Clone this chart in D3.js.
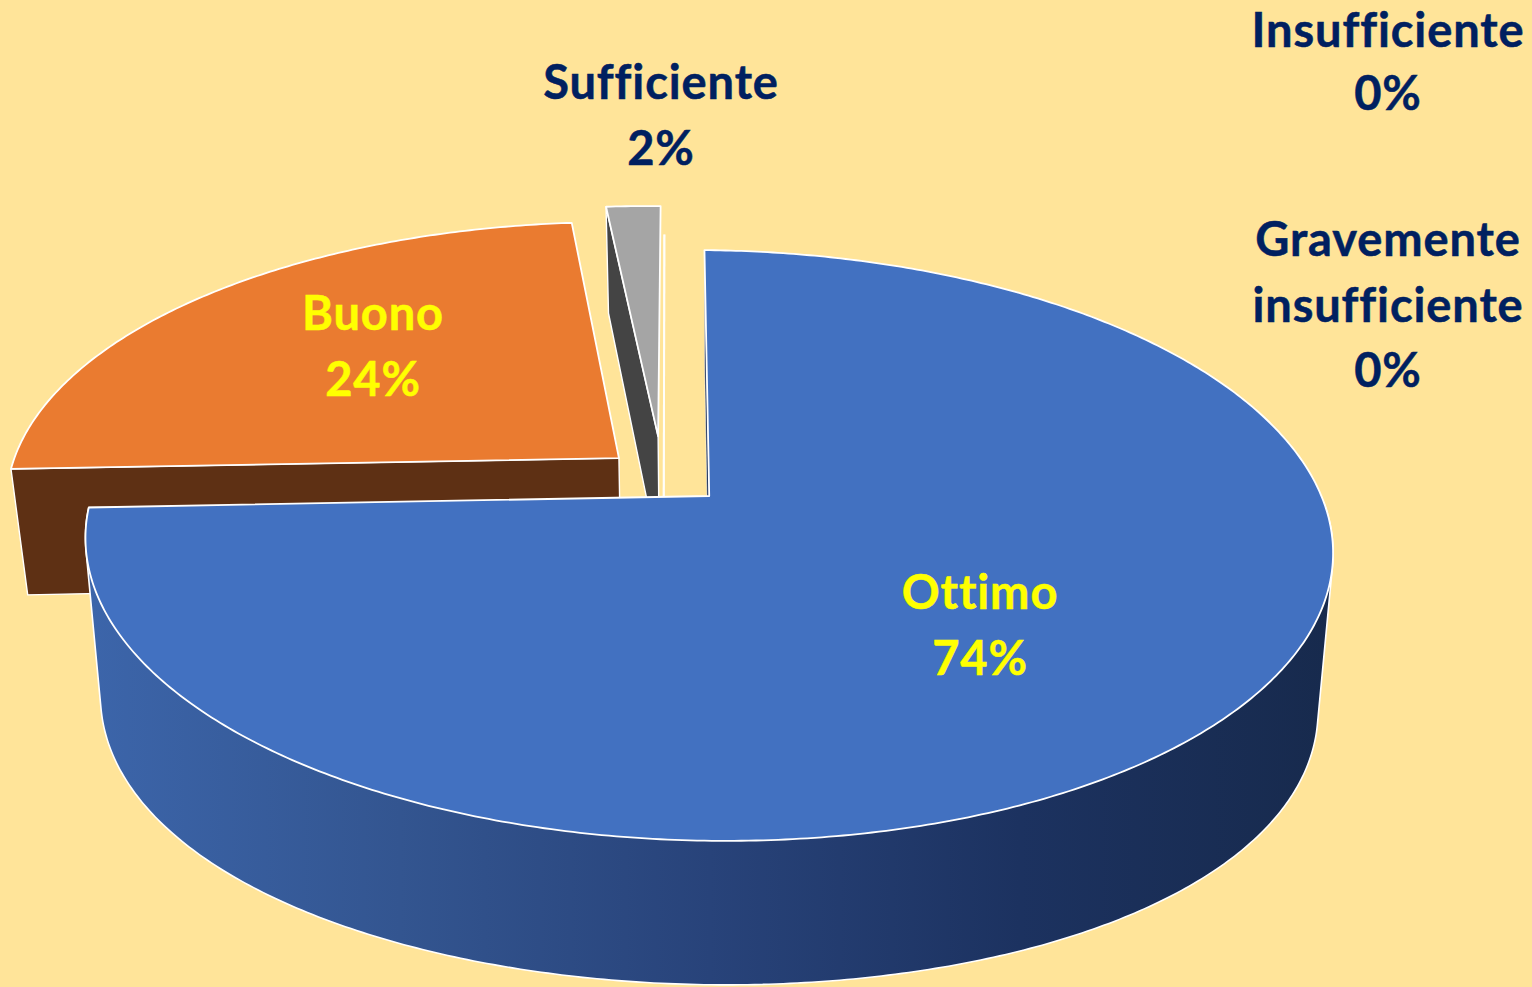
<!DOCTYPE html>
<html><head><meta charset="utf-8">
<script src="https://cdn.jsdelivr.net/npm/d3@7/dist/d3.min.js"></script>
<style>html,body{margin:0;padding:0;background:#ffe499;overflow:hidden}svg{display:block}</style>
</head><body><svg id="c" width="1532" height="987"></svg>
<script>
const categories = ["Ottimo","Buono","Sufficiente","Insufficiente","Gravemente insufficiente"];
const values = [74.1,24.2,1.7,0,0];
const percentLabels = ["74%","24%","2%","0%","0%"];
const topColors = ["#4271c1","#ea7b30","#a5a5a5","#ffe499","#ffe499"];
const sideColors = ["#182c54","#5e3014","#444444","#ffffff","#ffffff"];
const textColors = ["#ffff00","#ffff00","#002060","#002060","#002060"];

// layout (not data)
const W=1532,H=987, cx=708, cy=496, R=615, A=287, K=0.1675, tilt=0.012;
const shrink=0.976, depth0=127, depthK=17, depthU=28;
const offsets=[[0.002,0],[-0.148,0.131],[-0.084,0.213],[-0.075,0.073],[-0.075,0.073]];
const labelPos=[[980,609],[373,330],[661,99],[1388,46.6],[1388,256]];
const lineLead=[65.5,65.5,65.5,63,65.5];

const svg=d3.select("#c");
svg.append("rect").attr("width",W).attr("height",H).attr("fill","#ffe499");
const grad=svg.append("defs").append("linearGradient").attr("id","wall")
  .attr("gradientUnits","userSpaceOnUse").attr("x1",90).attr("x2",1330).attr("y1",0).attr("y2",0);
[[0,"#3c65aa"],[0.25,"#335590"],[0.5,"#28437a"],[0.75,"#1c3260"],[1,"#172a4d"]]
  .forEach(s=>grad.append("stop").attr("offset",s[0]).attr("stop-color",s[1]));

const pie=d3.pie().sort(null).value(d=>d).startAngle(-0.5*Math.PI/180).endAngle((360-0.5)*Math.PI/180);
const arcs=pie(values);

// perspective projection of the pie's plane; z=0 is the top, z=1 the bottom
function proj(u,v,z,round){
  const s=1+K*v;
  let x=cx+R*u/s, y=cy-A*v/s+(R*u/s)*tilt;
  if(z){ x=cx+(x-cx)*shrink; y=y+depth0-depthK*v+(round?depthU*u*u:0); }
  return [x,y];
}
const line=d3.line().curve(d3.curveLinear);
function rim(a0,a1,off,z,round){
  const n=Math.max(2,Math.ceil((a1-a0)/0.01));
  return d3.range(n+1).map(i=>{
    const t=a0+(a1-a0)*i/n;
    return proj(off[0]+Math.sin(t),off[1]+Math.cos(t),z,round);
  });
}
const edge=(a,off,z)=>proj(off[0]+Math.sin(a),off[1]+Math.cos(a),z);
const apex=(off,z)=>proj(off[0],off[1],z);
const stroke=(sel,w)=>sel.attr("stroke","#ffffff").attr("stroke-width",w).attr("stroke-linejoin","round");
const g=svg.append("g");

function drawSlice(i){
  const d=arcs[i], off=offsets[i], a0=d.startAngle, a1=d.endAngle;
  if(values[i]===0){
    stroke(g.append("path").attr("d",line([edge(a0,off,0),apex(off,1)])).attr("fill","none"),2).attr("stroke-opacity",.8);
    return;
  }
  // the one radial face seen from the camera
  const face=[edge(a0,off,0),edge(a0,off,1),apex(off,1),apex(off,0)];
  stroke(g.append("path").attr("d",line(face)+"Z").attr("fill",sideColors[i]),i===0?0.5:1.4);
  const top=rim(a0,a1,off,0);
  if(i===0){
    // only the front part of the rim has a visible outer wall
    const fa=Math.PI/2;
    const hull=d3.polygonHull(rim(fa,a1,off,0).concat(rim(fa,a1,off,1,true)));
    stroke(g.append("path").attr("d",line(hull)+"Z").attr("fill","url(#wall)"),1.6);
  }
  stroke(g.append("path").attr("d",line([apex(off,0)].concat(top))+"Z").attr("fill",topColors[i]),1.8);
}
// back to front
[4,3,2,1,0].forEach(drawSlice);

const labels=categories.map((c,i)=>{
  const lines = c==="Gravemente insufficiente" ? ["Gravemente","insufficiente"] : [c];
  return {lines:lines.concat([percentLabels[i]]),color:textColors[i],pos:labelPos[i],lead:lineLead[i]};
});
const tg=svg.append("g").attr("font-family","Lato, sans-serif").attr("font-weight",700).attr("font-size",47)
  .attr("text-anchor","middle").attr("letter-spacing",0.9).attr("stroke-width",0.5)
  .style("font-variant-ligatures","none");
labels.forEach(l=>{
  const t=tg.append("text").attr("fill",l.color).attr("stroke",l.color);
  l.lines.forEach((s,j)=>t.append("tspan").attr("x",l.pos[0]).attr("y",l.pos[1]+j*l.lead).text(s));
});
</script></body></html>
